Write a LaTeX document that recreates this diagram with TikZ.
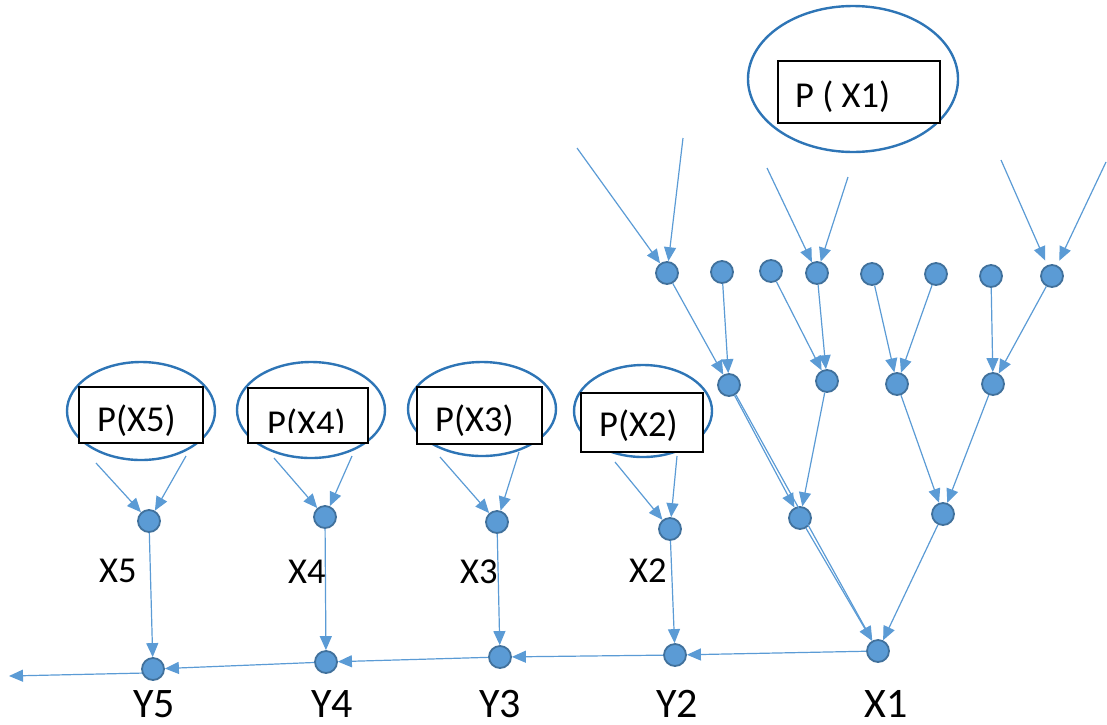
\documentclass[tikz,border=0pt]{standalone}
\usepackage{fontspec}
\setmainfont{Carlito}
\usetikzlibrary{arrows.meta,shapes.geometric}
\definecolor{lineblue}{HTML}{5B9BD5}
\definecolor{nodeedge}{HTML}{41719C}
\definecolor{ellblue}{HTML}{2E75B6}
\begin{document}
\begin{tikzpicture}[x=1pt,y=-1pt,
  dot/.style={circle,fill=lineblue,draw=nodeedge,line width=1.8pt,minimum size=22pt,inner sep=0pt},
  conn/.style={draw=lineblue,line width=1.2pt,-{Triangle[length=14pt,width=12pt]}},
  ell/.style={ellipse,draw=ellblue,line width=2.4pt,inner sep=0pt},
  pbox/.style={rectangle,draw=black,fill=white,line width=1.2pt,inner sep=0pt},
  ptext/.style={font=\fontsize{36.5}{40}\selectfont,inner sep=0pt,anchor=base west},
  xlab/.style={font=\fontsize{36.5}{40}\selectfont,inner sep=0pt,anchor=base west},
  ylab/.style={font=\fontsize{42}{46}\selectfont,inner sep=0pt,anchor=base},
]
\useasboundingbox (0,0) rectangle (1107,724);

% ellipses
\node[ell,minimum width=210pt,minimum height=146pt] (e1) at (853,79) {};
\node[ell,minimum width=138pt,minimum height=92pt] (e2) at (643,411) {};
\node[ell,minimum width=148pt,minimum height=94pt] (e3) at (482,409) {};
\node[ell,minimum width=148pt,minimum height=96pt] (e4) at (311,410) {};
\node[ell,minimum width=148pt,minimum height=98pt] (e5) at (141,411) {};

% boxes
\node[pbox,minimum width=162pt,minimum height=62pt] (b1box) at (859,92) {};
\node[pbox,minimum width=122pt,minimum height=59pt] (b2box) at (642,422.5) {};
\node[pbox,minimum width=125pt,minimum height=57pt] (b3box) at (479.5,415.5) {};
\node[pbox,minimum width=120pt,minimum height=55pt] (b4box) at (308,415.5) {};
\node[pbox,minimum width=124pt,minimum height=56pt] (b5box) at (141,415) {};

% box texts
\node[ptext] (t1) at (795,107) {P ( X1)};
\node[ptext] (t2) at (599,436) {P(X2)};
\node[ptext] (t3) at (435,431) {P(X3)};
\begin{scope}
  \clip (248,388) rectangle (368,432);
  \node[ptext] (t4) at (267,435) {P(X4)};
\end{scope}
\node[ptext] (t5) at (97,431) {P(X5)};

% tree nodes
\node[dot] (a1) at (667,273) {};
\node[dot] (a2) at (722,272) {};
\node[dot] (a3) at (771,271) {};
\node[dot] (a4) at (817,273) {};
\node[dot] (a5) at (872,274) {};
\node[dot] (a6) at (936,274) {};
\node[dot] (a7) at (991,276) {};
\node[dot] (a8) at (1052,276) {};
\node[dot] (b1) at (729,385) {};
\node[dot] (b2) at (827,381) {};
\node[dot] (b3) at (897,384) {};
\node[dot] (b4) at (993,384) {};
\node[dot] (c1) at (800,518) {};
\node[dot] (c2) at (943,514) {};
\node[dot] (X1) at (878,651) {};

% chain nodes
\node[dot] (X2) at (670,529) {};
\node[dot] (X3) at (497,522) {};
\node[dot] (X4) at (325,517) {};
\node[dot] (X5) at (149,521) {};
\node[dot] (Y2) at (675,655) {};
\node[dot] (Y3) at (500,657) {};
\node[dot] (Y4) at (326,662) {};
\node[dot] (Y5) at (153,669) {};

% free ends
\coordinate (s1) at (577,148);
\coordinate (s2) at (683,138);
\coordinate (s3) at (767,168);
\coordinate (s4) at (848,177);
\coordinate (s5) at (1001,160);
\coordinate (s6) at (1106,162);
\coordinate (q5a) at (96,463);
\coordinate (q5b) at (186,456);
\coordinate (q4a) at (274,458);
\coordinate (q4b) at (352,456);
\coordinate (q3a) at (440,457);
\coordinate (q3b) at (519,452);
\coordinate (q2a) at (615,462);
\coordinate (q2b) at (677,456);
\coordinate (lend) at (9,676);

% connectors: top inputs
\draw[conn] (s1) -- (a1);
\draw[conn] (s2) -- (a1);
\draw[conn] (s3) -- (a4);
\draw[conn] (s4) -- (a4);
\draw[conn,shorten >=5pt] (s5) -- (a8);
\draw[conn,shorten >=5pt] (s6) -- (a8);

% tree
\draw[conn] (a1) -- (b1);
\draw[conn] (a2) -- (b1);
\draw[conn] (a3) -- (b2);
\draw[conn] (a4) -- (b2);
\draw[conn] (a5) -- (b3);
\draw[conn] (a6) -- (b3);
\draw[conn] (a7) -- (b4);
\draw[conn] (a8) -- (b4);
\draw[conn] (b1) -- (c1);
\draw[conn] (b2) -- (c1);
\draw[conn] (b3) -- (c2);
\draw[conn] (b4) -- (c2);
\draw[conn] (b1.-55) -- (X1);
\draw[conn] (c1) -- (X1);
\draw[conn] (c2) -- (X1);

% prior inputs
\draw[conn] (q5a) -- (X5);
\draw[conn] (q5b) -- (X5);
\draw[conn] (q4a) -- (X4);
\draw[conn] (q4b) -- (X4);
\draw[conn] (q3a) -- (X3);
\draw[conn] (q3b) -- (X3);
\draw[conn] (q2a) -- (X2);
\draw[conn] (q2b) -- (X2);

% chain
\draw[conn] (X2) -- (Y2);
\draw[conn] (X3) -- (Y3);
\draw[conn] (X4) -- (Y4);
\draw[conn] (X5) -- (Y5);
\draw[conn] (X1) -- (Y2);
\draw[conn] (Y2) -- (Y3);
\draw[conn] (Y3) -- (Y4);
\draw[conn] (Y4) -- (Y5);
\draw[conn] (Y5.200) -- (lend);

% labels
\node[xlab] (lx5) at (99,582) {X5};
\node[xlab] (lx4) at (288,583) {X4};
\node[xlab] (lx3) at (460,583) {X3};
\node[xlab] (lx2) at (629,582) {X2};
\node[ylab] (ly5) at (154,717) {Y5};
\node[ylab] (ly4) at (332,717) {Y4};
\node[ylab] (ly3) at (500,717) {Y3};
\node[ylab] (ly2) at (677,717) {Y2};
\node[ylab] (lx1) at (886,717) {X1};
\end{tikzpicture}
\end{document}
